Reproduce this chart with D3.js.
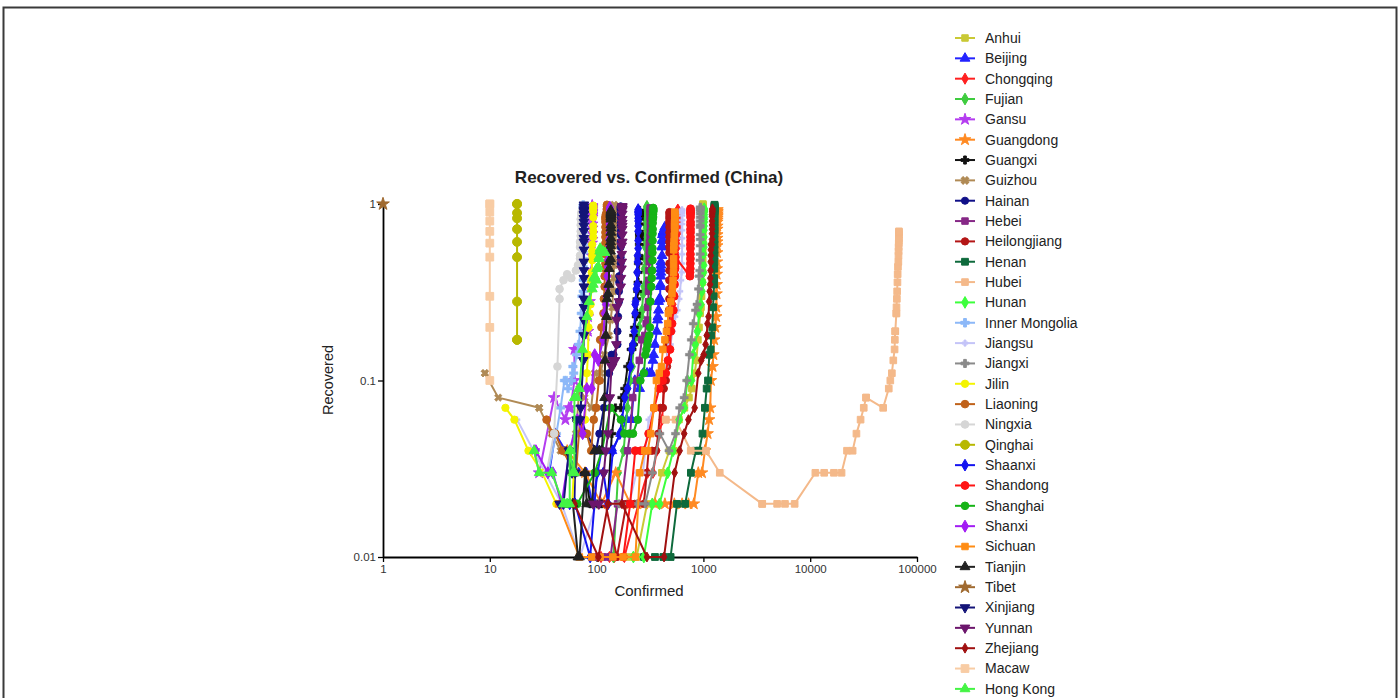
<!DOCTYPE html>
<html>
<head>
<meta charset="utf-8">
<script src="https://cdn.jsdelivr.net/npm/d3@7"></script>
<style>
  body { margin: 0; background: #fff; }
  svg { display: block; font-family: "Liberation Sans", Arial, sans-serif; }
</style>
</head>
<body>
<div id="chart"></div>
<script>
// each series: [confirmed, recovered ratio] (zero-recovery days are not plotted on log axis)
const anhui = [[200,0.01],[237,0.01],[297,0.02],[340,0.02],[408,0.03],[480,0.04],[530,0.04],[591,0.06],[665,0.07],[733,0.08],[779,0.09],[830,0.11],[860,0.13],[889,0.17],[910,0.2],[934,0.24],[950,0.26],[962,0.3],[973,0.36],[982,0.41],[986,0.48],[987,0.54],[988,0.62],[989,0.67],[989,0.75],[989,0.81],[989,0.86],[990,0.88],[990,0.91],[990,0.93],[990,0.95],[990,0.97],[990,0.98],[990,0.99],[990,1]];
const beijing = [[36,0.03],[41,0.05],[68,0.03],[80,0.03],[91,0.02],[111,0.04],[114,0.04],[139,0.04],[168,0.05],[191,0.06],[212,0.06],[228,0.1],[253,0.09],[274,0.11],[297,0.11],[315,0.11],[326,0.11],[337,0.13],[342,0.14],[352,0.16],[366,0.19],[372,0.22],[375,0.23],[380,0.25],[381,0.28],[387,0.29],[393,0.29],[395,0.34],[396,0.35],[399,0.39],[399,0.41],[399,0.43],[400,0.45],[400,0.47],[410,0.51],[410,0.57],[411,0.58],[413,0.62],[414,0.63],[414,0.67],[418,0.67],[418,0.69],[422,0.7],[426,0.7],[428,0.71],[429,0.72],[435,0.74]];
const chongqing = [[110,0.01],[132,0.01],[147,0.01],[182,0.01],[247,0.02],[300,0.03],[337,0.03],[366,0.04],[389,0.05],[411,0.06],[426,0.09],[446,0.11],[468,0.13],[486,0.19],[505,0.23],[518,0.27],[529,0.31],[537,0.36],[544,0.4],[551,0.44],[553,0.48],[555,0.52],[560,0.56],[567,0.59],[572,0.64],[573,0.68],[575,0.71],[576,0.74],[576,0.77],[576,0.8],[576,0.82],[576,0.84],[576,0.85],[576,0.87],[576,0.88],[576,0.9],[576,0.91],[576,0.92],[576,0.93]];
const fujian = [[144,0.01],[159,0.03],[179,0.04],[194,0.07],[205,0.1],[215,0.12],[224,0.16],[239,0.18],[250,0.2],[261,0.23],[267,0.25],[272,0.31],[279,0.34],[281,0.43],[285,0.49],[287,0.57],[290,0.62],[292,0.67],[293,0.73],[293,0.75],[293,0.8],[293,0.82],[293,0.84],[294,0.87],[294,0.89],[296,0.91],[296,0.94],[296,0.96],[296,0.97]];
const gansu = [[26,0.04],[29,0.03],[40,0.08],[51,0.06],[55,0.07],[57,0.07],[62,0.1],[62,0.15],[67,0.15],[79,0.18],[83,0.19],[83,0.23],[86,0.28],[87,0.34],[90,0.38],[90,0.42],[90,0.51],[90,0.6],[91,0.63],[91,0.68],[91,0.73],[91,0.77],[91,0.84],[91,0.86],[91,0.88],[91,0.9],[91,0.91],[91,0.93],[91,0.95],[91,0.96],[91,0.97],[91,0.98]];
const guangdong = [[53,0.04],[78,0.03],[111,0.02],[151,0.03],[207,0.02],[277,0.02],[354,0.02],[436,0.02],[535,0.02],[632,0.02],[725,0.02],[813,0.02],[895,0.03],[970,0.03],[1034,0.04],[1095,0.05],[1131,0.06],[1159,0.07],[1177,0.1],[1219,0.12],[1241,0.14],[1261,0.17],[1294,0.2],[1316,0.23],[1322,0.26],[1328,0.31],[1331,0.35],[1332,0.4],[1333,0.43],[1339,0.47],[1342,0.53],[1345,0.58],[1347,0.61],[1347,0.64],[1347,0.67],[1348,0.72],[1349,0.75],[1349,0.79],[1350,0.81],[1350,0.83],[1350,0.85],[1351,0.86],[1352,0.88],[1352,0.9],[1352,0.91],[1352,0.93]];
const guangxi = [[51,0.04],[58,0.03],[78,0.03],[87,0.02],[100,0.02],[111,0.02],[127,0.02],[139,0.05],[150,0.07],[168,0.07],[172,0.08],[183,0.09],[195,0.12],[210,0.15],[215,0.15],[222,0.16],[222,0.18],[226,0.2],[235,0.23],[237,0.24],[238,0.29],[242,0.32],[244,0.36],[245,0.41],[246,0.46],[249,0.49],[249,0.51],[251,0.59],[252,0.63],[252,0.65],[252,0.67],[252,0.68],[252,0.7],[252,0.77],[252,0.82],[252,0.85],[252,0.86],[252,0.87],[252,0.89],[252,0.9],[252,0.92]];
const guizhou = [[9,0.11],[9,0.11],[12,0.08],[29,0.07],[29,0.07],[38,0.05],[46,0.04],[56,0.04],[64,0.05],[69,0.09],[77,0.08],[89,0.07],[96,0.11],[109,0.11],[118,0.14],[131,0.18],[135,0.22],[140,0.26],[143,0.32],[144,0.38],[146,0.45],[146,0.49],[146,0.58],[146,0.64],[146,0.69],[146,0.75],[146,0.78],[146,0.79],[146,0.81],[146,0.85],[146,0.9],[146,0.92],[146,0.94],[146,0.95],[146,0.97],[146,0.98],[146,0.99]];
const hainan = [[46,0.02],[52,0.02],[62,0.02],[64,0.06],[72,0.06],[80,0.05],[99,0.04],[106,0.05],[117,0.07],[124,0.08],[131,0.11],[138,0.14],[144,0.14],[157,0.16],[157,0.19],[159,0.23],[162,0.28],[162,0.32],[163,0.36],[163,0.39],[168,0.46],[168,0.5],[168,0.57],[168,0.61],[168,0.67],[168,0.7],[168,0.75],[168,0.78],[168,0.84],[168,0.87],[168,0.88],[168,0.91],[168,0.93],[168,0.94],[168,0.95],[168,0.96],[168,0.97]];
const hebei = [[96,0.01],[104,0.01],[113,0.01],[126,0.01],[135,0.01],[157,0.02],[171,0.02],[195,0.04],[206,0.05],[218,0.08],[239,0.1],[251,0.13],[265,0.17],[283,0.18],[291,0.21],[300,0.22],[301,0.26],[306,0.28],[306,0.32],[307,0.35],[308,0.37],[309,0.42],[311,0.47],[311,0.51],[311,0.55],[312,0.6],[317,0.65],[318,0.69],[318,0.74],[318,0.8],[318,0.84],[318,0.87],[318,0.9],[318,0.92],[318,0.94],[318,0.95]];
const heilongjiang = [[121,0.02],[155,0.01],[190,0.02],[227,0.02],[277,0.02],[295,0.03],[307,0.04],[331,0.04],[360,0.04],[378,0.05],[395,0.07],[418,0.07],[426,0.09],[445,0.1],[457,0.12],[464,0.16],[470,0.2],[476,0.25],[479,0.29],[479,0.33],[479,0.37],[480,0.42],[480,0.46],[480,0.53],[480,0.57],[480,0.61],[480,0.65],[480,0.69],[480,0.74],[480,0.78],[480,0.8],[480,0.83],[481,0.85],[481,0.87],[481,0.89],[481,0.9]];
const henan = [[278,0.01],[352,0.01],[422,0.01],[493,0.01],[566,0.02],[675,0.02],[764,0.03],[851,0.04],[914,0.04],[981,0.05],[1033,0.07],[1073,0.09],[1105,0.1],[1135,0.14],[1169,0.15],[1184,0.18],[1212,0.2],[1231,0.26],[1246,0.3],[1257,0.35],[1262,0.38],[1265,0.43],[1267,0.47],[1270,0.51],[1271,0.55],[1271,0.59],[1271,0.63],[1271,0.68],[1272,0.71],[1272,0.74],[1272,0.78],[1272,0.81],[1272,0.85],[1272,0.88],[1272,0.9],[1272,0.92],[1272,0.93],[1272,0.94],[1272,0.95],[1272,0.96],[1272,0.97],[1272,0.98],[1272,0.99]];
const hubei = [[444,0.06],[444,0.06],[549,0.06],[761,0.04],[1058,0.04],[1423,0.03],[3554,0.02],[3554,0.02],[4903,0.02],[5806,0.02],[7153,0.02],[11177,0.03],[13522,0.03],[16678,0.03],[19665,0.03],[22112,0.04],[24953,0.04],[27100,0.05],[29631,0.06],[31728,0.07],[33366,0.08],[33366,0.08],[48206,0.07],[54406,0.09],[56249,0.1],[58182,0.11],[59989,0.13],[61682,0.15],[62031,0.17],[62442,0.19],[62662,0.19],[64084,0.24],[64084,0.24],[64287,0.26],[64786,0.29],[65187,0.32],[65596,0.36],[65914,0.4],[66337,0.44],[66907,0.47],[67103,0.51],[67217,0.54],[67332,0.57],[67466,0.6],[67592,0.62],[67666,0.64],[67707,0.67],[67743,0.69],[67760,0.7]];
const hunan = [[221,0.01],[277,0.01],[332,0.02],[389,0.02],[463,0.03],[521,0.04],[593,0.06],[661,0.07],[711,0.1],[772,0.1],[803,0.14],[838,0.16],[879,0.19],[912,0.24],[946,0.27],[968,0.32],[988,0.36],[1001,0.41],[1004,0.45],[1006,0.52],[1007,0.57],[1008,0.6],[1010,0.65],[1011,0.71],[1013,0.75],[1016,0.79],[1016,0.82],[1016,0.84],[1016,0.87],[1017,0.9],[1017,0.91],[1018,0.92],[1018,0.93],[1018,0.94]];
const innerMongolia = [[35,0.03],[42,0.05],[46,0.07],[50,0.1],[52,0.1],[54,0.09],[58,0.1],[58,0.1],[60,0.12],[61,0.11],[65,0.14],[68,0.16],[70,0.19],[72,0.24],[73,0.3],[75,0.32],[75,0.37],[75,0.44],[75,0.47],[75,0.49],[75,0.53],[75,0.59],[75,0.63],[75,0.69],[75,0.73],[75,0.77],[75,0.8],[75,0.84],[75,0.88],[75,0.92],[75,0.93],[75,0.95],[75,0.96],[75,0.97],[75,0.99]];
const jiangsu = [[18,0.06],[33,0.03],[47,0.02],[70,0.01],[99,0.02],[129,0.02],[168,0.02],[202,0.02],[236,0.03],[271,0.03],[308,0.06],[341,0.07],[373,0.09],[408,0.1],[439,0.12],[468,0.15],[492,0.16],[515,0.19],[543,0.23],[570,0.25],[593,0.29],[604,0.32],[617,0.37],[626,0.41],[629,0.46],[631,0.52],[631,0.58],[631,0.64],[631,0.71],[631,0.77],[631,0.81],[631,0.86],[631,0.89],[631,0.91],[631,0.92],[631,0.93]];
const jiangxi = [[162,0.02],[240,0.02],[286,0.02],[333,0.03],[391,0.05],[476,0.04],[548,0.05],[600,0.07],[661,0.08],[698,0.1],[740,0.14],[771,0.17],[804,0.21],[844,0.25],[872,0.27],[900,0.33],[913,0.39],[925,0.42],[930,0.48],[933,0.52],[934,0.58],[934,0.63],[934,0.67],[934,0.74],[934,0.76],[934,0.8],[935,0.84],[935,0.88],[935,0.91],[935,0.93],[935,0.95],[935,0.96]];
const jilin = [[14,0.07],[17,0.06],[23,0.04],[31,0.03],[42,0.02],[54,0.02],[59,0.02],[65,0.06],[69,0.06],[78,0.06],[80,0.09],[81,0.11],[83,0.14],[84,0.2],[86,0.24],[88,0.27],[89,0.33],[89,0.36],[89,0.38],[90,0.41],[91,0.48],[91,0.51],[91,0.54],[91,0.59],[93,0.65],[93,0.7],[93,0.75],[93,0.84],[93,0.91],[93,0.94],[93,0.95],[93,0.96],[93,0.97],[93,0.98]];
const liaoning = [[34,0.06],[39,0.05],[41,0.05],[48,0.04],[64,0.03],[70,0.06],[74,0.05],[81,0.05],[89,0.04],[94,0.06],[99,0.07],[105,0.1],[107,0.1],[108,0.17],[111,0.2],[116,0.24],[117,0.29],[119,0.34],[119,0.39],[121,0.43],[121,0.46],[121,0.52],[121,0.6],[121,0.65],[121,0.69],[121,0.74],[121,0.79],[121,0.82],[121,0.84],[122,0.85],[122,0.87],[125,0.86],[125,0.89],[125,0.9],[125,0.91],[125,0.93],[125,0.94],[125,0.97],[125,0.99]];
const ningxia = [[34,0.03],[40,0.05],[43,0.12],[45,0.29],[45,0.33],[49,0.37],[53,0.4],[58,0.38],[64,0.42],[67,0.45],[70,0.49],[70,0.51],[70,0.57],[70,0.61],[71,0.66],[71,0.7],[71,0.76],[71,0.82],[72,0.86],[72,0.89],[73,0.89],[73,0.9],[73,0.92],[74,0.92],[75,0.93],[75,0.95]];
const qinghai = [[18,0.17],[18,0.17],[18,0.28],[18,0.5],[18,0.61],[18,0.72],[18,0.83],[18,0.89],[18,1],[18,1]];
const shaanxi = [[56,0.02],[63,0.02],[87,0.01],[101,0.03],[116,0.03],[128,0.02],[142,0.04],[165,0.05],[173,0.06],[184,0.08],[195,0.09],[208,0.12],[213,0.15],[219,0.16],[225,0.19],[229,0.24],[230,0.27],[232,0.28],[236,0.33],[240,0.35],[240,0.41],[242,0.47],[242,0.51],[245,0.56],[245,0.62],[245,0.7],[245,0.75],[245,0.8],[245,0.83],[245,0.87],[245,0.89],[245,0.9],[245,0.91],[245,0.93]];
const shandong = [[178,0.01],[206,0.02],[230,0.04],[259,0.04],[275,0.04],[307,0.05],[347,0.07],[386,0.09],[416,0.1],[444,0.11],[466,0.13],[487,0.15],[497,0.19],[509,0.21],[523,0.25],[532,0.3],[537,0.35],[541,0.39],[543,0.43],[544,0.46],[546,0.5],[748,0.39],[750,0.41],[754,0.43],[755,0.46],[756,0.49],[756,0.52],[756,0.56],[756,0.59],[758,0.62],[758,0.65],[758,0.69],[758,0.72],[758,0.76],[758,0.79],[758,0.84],[758,0.87],[758,0.89],[758,0.9],[758,0.92],[758,0.94]];
const shanghai = [[53,0.02],[66,0.02],[96,0.03],[112,0.04],[135,0.07],[169,0.06],[182,0.05],[203,0.05],[219,0.05],[243,0.06],[257,0.1],[277,0.11],[286,0.14],[293,0.15],[299,0.16],[303,0.17],[311,0.18],[316,0.2],[319,0.28],[325,0.34],[328,0.38],[331,0.42],[333,0.48],[333,0.53],[333,0.56],[334,0.62],[334,0.68],[335,0.72],[335,0.78],[335,0.82],[336,0.83],[337,0.84],[337,0.85],[337,0.87],[337,0.88],[338,0.9],[339,0.91],[339,0.92],[339,0.93],[339,0.94],[339,0.95]];
const shanxi = [[27,0.04],[35,0.03],[39,0.03],[47,0.02],[56,0.04],[66,0.06],[74,0.05],[81,0.09],[90,0.09],[96,0.14],[104,0.13],[115,0.17],[119,0.24],[122,0.27],[124,0.3],[126,0.34],[126,0.39],[127,0.44],[128,0.48],[129,0.52],[130,0.55],[131,0.57],[131,0.63],[132,0.68],[132,0.73],[132,0.77],[133,0.81],[133,0.86],[133,0.89],[133,0.92],[133,0.93],[133,0.95],[133,0.95],[133,0.96]];
const sichuan = [[44,0.02],[69,0.01],[90,0.01],[108,0.01],[142,0.01],[177,0.01],[231,0.01],[254,0.03],[282,0.04],[301,0.04],[321,0.05],[344,0.07],[363,0.1],[386,0.11],[405,0.12],[417,0.15],[436,0.17],[451,0.19],[463,0.21],[470,0.24],[481,0.25],[495,0.28],[508,0.31],[514,0.34],[520,0.37],[525,0.41],[526,0.45],[526,0.49],[527,0.55],[529,0.58],[531,0.61],[534,0.66],[538,0.71],[538,0.73],[538,0.75],[538,0.77],[538,0.79],[539,0.81],[539,0.83],[539,0.86],[539,0.87],[539,0.88],[539,0.9]];
const tianjin = [[60,0.02],[67,0.01],[69,0.01],[78,0.03],[81,0.02],[88,0.02],[91,0.02],[96,0.04],[106,0.04],[112,0.04],[119,0.08],[120,0.13],[122,0.18],[124,0.23],[125,0.29],[128,0.31],[130,0.35],[131,0.43],[132,0.47],[135,0.49],[135,0.54],[135,0.58],[135,0.61],[136,0.64],[136,0.69],[136,0.73],[136,0.76],[136,0.82],[136,0.84],[136,0.85],[136,0.87],[136,0.88],[136,0.89],[136,0.9],[136,0.92]];
const tibet = [[1,1]];
const xinjiang = [[45,0.02],[49,0.02],[55,0.04],[59,0.03],[63,0.03],[65,0.06],[70,0.06],[71,0.07],[75,0.13],[76,0.18],[76,0.22],[76,0.26],[76,0.29],[76,0.34],[76,0.38],[76,0.42],[76,0.47],[76,0.55],[76,0.61],[76,0.64],[76,0.7],[76,0.75],[76,0.79],[76,0.83],[76,0.87],[76,0.88],[76,0.91],[76,0.92],[76,0.93],[76,0.96],[76,0.99]];
const yunnan = [[93,0.02],[105,0.02],[117,0.03],[122,0.04],[128,0.05],[133,0.08],[138,0.12],[140,0.12],[141,0.13],[149,0.13],[153,0.16],[154,0.22],[155,0.26],[162,0.28],[168,0.34],[169,0.38],[171,0.43],[172,0.47],[172,0.52],[172,0.58],[174,0.61],[174,0.67],[174,0.72],[174,0.75],[174,0.78],[174,0.82],[174,0.88],[174,0.92],[174,0.94],[174,0.94],[174,0.96],[174,0.97]];
const zhejiang = [[62,0.02],[104,0.01],[128,0.02],[173,0.02],[296,0.01],[428,0.01],[538,0.03],[599,0.04],[661,0.05],[724,0.06],[829,0.07],[895,0.11],[954,0.13],[1006,0.14],[1048,0.16],[1075,0.18],[1092,0.21],[1117,0.23],[1131,0.28],[1145,0.32],[1155,0.35],[1162,0.38],[1167,0.42],[1171,0.47],[1172,0.51],[1174,0.55],[1175,0.59],[1203,0.59],[1205,0.63],[1205,0.68],[1205,0.72],[1205,0.76],[1205,0.8],[1205,0.85],[1206,0.87],[1213,0.89],[1213,0.91],[1215,0.91],[1215,0.93],[1215,0.94]];
const macaw = [[10,0.1],[10,0.2],[10,0.3],[10,0.5],[10,0.6],[10,0.7],[10,0.8],[10,0.9],[10,1],[10,1]];
const hongKong = [[26,0.04],[29,0.03],[38,0.03],[49,0.02],[50,0.02],[53,0.02],[56,0.02],[56,0.04],[57,0.04],[60,0.03],[62,0.03],[62,0.08],[65,0.08],[68,0.09],[69,0.09],[74,0.15],[81,0.23],[85,0.28],[91,0.33],[93,0.35],[94,0.38],[95,0.38],[96,0.39],[100,0.37],[100,0.43],[104,0.44],[105,0.49],[105,0.5],[107,0.54],[108,0.56],[109,0.55],[115,0.54],[120,0.53]];

const provinces = ["Anhui","Beijing","Chongqing","Fujian","Gansu","Guangdong","Guangxi","Guizhou","Hainan","Hebei",
  "Heilongjiang","Henan","Hubei","Hunan","Inner Mongolia","Jiangsu","Jiangxi","Jilin","Liaoning","Ningxia",
  "Qinghai","Shaanxi","Shandong","Shanghai","Shanxi","Sichuan","Tianjin","Tibet","Xinjiang","Yunnan",
  "Zhejiang","Macaw","Hong Kong"];
const series = [anhui, beijing, chongqing, fujian, gansu, guangdong, guangxi, guizhou, hainan, hebei,
  heilongjiang, henan, hubei, hunan, innerMongolia, jiangsu, jiangxi, jilin, liaoning, ningxia,
  qinghai, shaanxi, shandong, shanghai, shanxi, sichuan, tianjin, tibet, xinjiang, yunnan,
  zhejiang, macaw, hongKong];
const xTicks = [1, 10, 100, 1000, 10000, 100000];
const yTicks = [0.01, 0.1, 1];

const colors = ["#c9c935","#2323ff","#ff2020","#3fcc3f","#b43cf0","#ff8a22","#111111","#b08a55","#101088","#862886",
  "#b41616","#0e6a3c","#f4b98a","#3cff3c","#8cb8f8","#c4c4f8","#8a8a8a","#f4f400","#c0621a","#d6d6d6",
  "#b8b800","#1414f0","#ff1414","#16b416","#a21cf4","#ff8c14","#222222","#a06a30","#141478","#6c166c",
  "#a01010","#f8cca4","#44f444"];
// marker: [d3 symbol, rotation, area]
const S = d3;
const markers = [
  [S.symbolSquare,0,42],[S.symbolTriangle,0,42],[S.symbolDiamond,0,36],[S.symbolDiamond,0,40],[S.symbolStar,0,42],
  [S.symbolStar,0,42],[S.symbolCross,0,36],[S.symbolCross,45,36],[S.symbolCircle,0,40],[S.symbolSquare,0,42],
  [S.symbolCircle,0,42],[S.symbolSquare,0,46],[S.symbolSquare,0,44],[S.symbolDiamond,0,40],[S.symbolCross,0,40],
  [S.symbolCross,0,20],[S.symbolCross,0,36],[S.symbolCircle,0,42],[S.symbolCircle,0,46],[S.symbolCircle,0,46],
  [S.symbolCircle,0,64],[S.symbolDiamond,0,40],[S.symbolCircle,0,48],[S.symbolCircle,0,46],[S.symbolDiamond,0,42],
  [S.symbolSquare,0,42],[S.symbolTriangle,0,42],[S.symbolStar,0,50],[S.symbolTriangle,180,40],[S.symbolTriangle,180,40],
  [S.symbolDiamond,0,28],[S.symbolSquare,0,60],[S.symbolTriangle,0,42]
];

const width = 1400, height = 698;
const svg = d3.select("#chart").append("svg")
  .attr("width", width)
  .attr("height", height);

svg.append("rect").attr("width", width).attr("height", height).attr("fill", "#fff");
// outer frame (bottom edge runs off the picture)
svg.append("rect")
  .attr("x", 3.5).attr("y", 7.5)
  .attr("width", 1393).attr("height", 700)
  .attr("fill", "none").attr("stroke", "#3a3a3a").attr("stroke-width", 2);

const x = d3.scaleLog().domain([1, 100000]).range([383, 917]);
const y = d3.scaleLog().domain([0.01, 1]).range([557, 204]);

// minor ticks 2..9 in each decade
const xMinor = [];
xTicks.slice(0, -1).forEach(d => { for (let k = 2; k < 10; k++) xMinor.push(d * k); });
const yMinor = [];
yTicks.slice(0, -1).forEach(d => { for (let k = 2; k < 10; k++) yMinor.push(d * k); });

const gx = svg.append("g").attr("transform", "translate(0,557)");
gx.call(d3.axisBottom(x).tickValues(xMinor).tickFormat("").tickSize(3).tickSizeOuter(0));
gx.call(d3.axisBottom(x).tickValues(xTicks).tickFormat(d3.format("d")).tickSize(5).tickPadding(3).tickSizeOuter(0));

const gy = svg.append("g").attr("transform", "translate(383,0)");
gy.call(d3.axisLeft(y).tickValues(yMinor).tickFormat("").tickSize(3).tickSizeOuter(0));
gy.call(d3.axisLeft(y).tickValues(yTicks).tickFormat(d => String(d)).tickSize(5).tickPadding(2).tickSizeOuter(0));

svg.selectAll(".domain").attr("stroke", "#000").attr("stroke-width", 1.8);
svg.selectAll(".tick line").attr("stroke", "#000").attr("stroke-width", 1.3);
svg.selectAll(".tick text").attr("fill", "#333").style("font-size", "11.5px")
  .style("font-family", '"Liberation Sans", Arial, sans-serif');

svg.append("text")
  .attr("x", 649).attr("y", 183)
  .attr("text-anchor", "middle")
  .style("font-size", "17px").style("font-weight", "bold").attr("fill", "#222")
  .text("Recovered vs. Confirmed (China)");

svg.append("text")
  .attr("x", 649).attr("y", 596)
  .attr("text-anchor", "middle")
  .style("font-size", "15px").attr("fill", "#222")
  .text("Confirmed");

svg.append("text")
  .attr("transform", "translate(333,380) rotate(-90)")
  .attr("text-anchor", "middle")
  .style("font-size", "14.5px").attr("fill", "#222")
  .text("Recovered");

const line = d3.line().x(d => x(d[0])).y(d => y(d[1]));
const plot = svg.append("g");

series.forEach((data, i) => {
  const g = plot.append("g");
  const [sym, rot, size] = markers[i];
  g.append("path")
    .datum(data)
    .attr("d", line)
    .attr("fill", "none")
    .attr("stroke", colors[i])
    .attr("stroke-width", 2)
    .attr("stroke-linejoin", "round");
  g.selectAll("path.pt")
    .data(data)
    .join("path")
    .attr("class", "pt")
    .attr("d", d3.symbol().type(sym).size(size))
    .attr("transform", d => `translate(${x(d[0])},${y(d[1])}) rotate(${rot})`)
    .attr("fill", colors[i])
    .attr("stroke", colors[i])
    .attr("stroke-width", sym === S.symbolCross ? 0.5 : 1);
});

// legend
const legend = svg.append("g");
provinces.forEach((name, i) => {
  const ly = 38 + i * 20.34;
  const [sym, rot, size] = markers[i];
  legend.append("line")
    .attr("x1", 955).attr("x2", 975).attr("y1", ly).attr("y2", ly)
    .attr("stroke", colors[i]).attr("stroke-width", 2);
  legend.append("path")
    .attr("d", d3.symbol().type(sym).size(size))
    .attr("transform", `translate(965,${ly}) rotate(${rot})`)
    .attr("fill", colors[i]).attr("stroke", colors[i]).attr("stroke-width", 1);
  legend.append("text")
    .attr("x", 985).attr("y", ly).attr("dy", "0.35em")
    .style("font-size", "14px").attr("fill", "#222")
    .text(name);
});
</script>
</body>
</html>
